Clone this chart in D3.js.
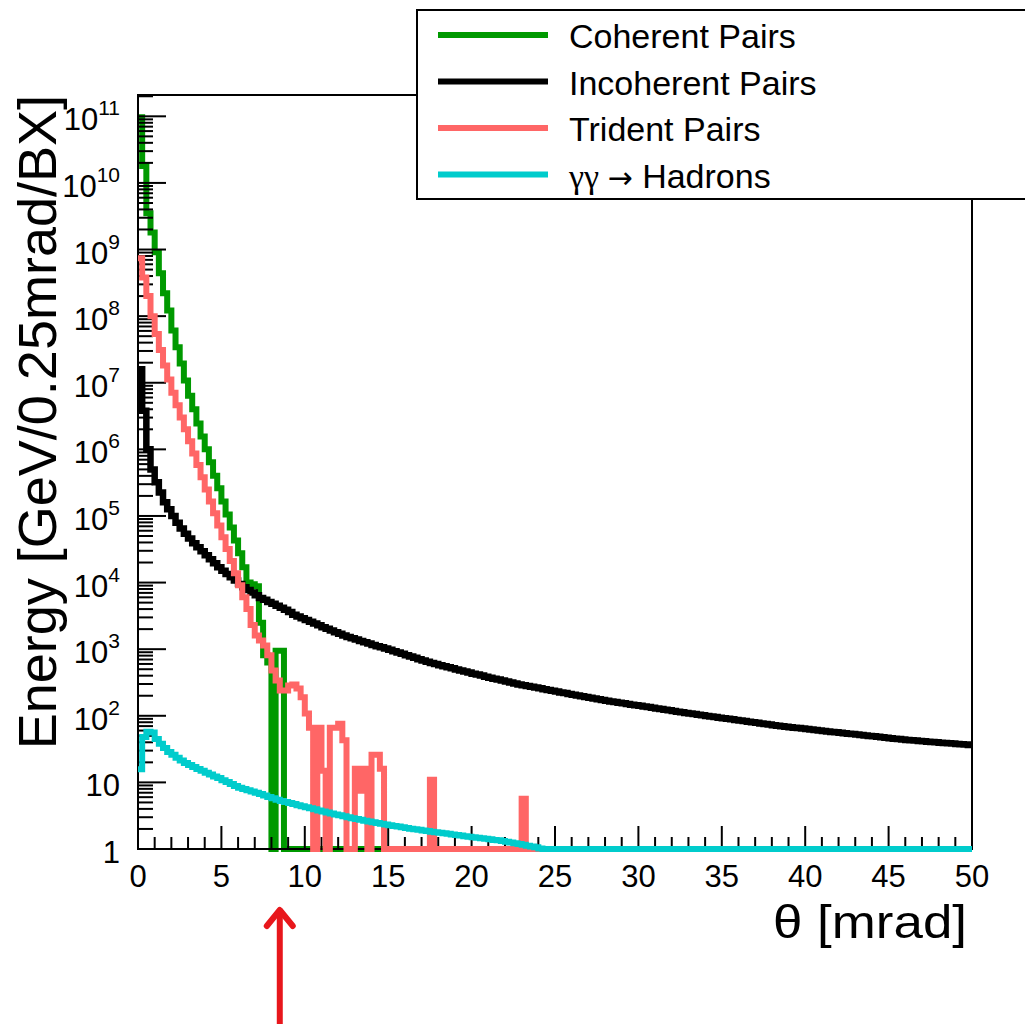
<!DOCTYPE html>
<html>
<head>
<meta charset="utf-8">
<script src="https://cdn.jsdelivr.net/npm/d3@7"></script>
<style>
  html, body { margin: 0; padding: 0; background: #fff; }
  svg { display: block; }
  text { font-family: "Liberation Sans", Arial, Helvetica, sans-serif; fill: #000; }
</style>
</head>
<body>
<svg id="chart" width="1025" height="1024"></svg>
<script>
// Energy per 0.25 mrad bin and bunch crossing, theta from 0 to 50 mrad
const binWidth = 0.25;            // mrad
const thetaRange = [0, 50];
const xTickValues = [0, 5, 10, 15, 20, 25, 30, 35, 40, 45, 50];
const yDecades = [0, 1, 2, 3, 4, 5, 6, 7, 8, 9, 10, 11];
const arrowTheta = 8.5;

const seriesNames = ["Coherent Pairs", "Incoherent Pairs", "Trident Pairs", "γγ → Hadrons"];
const seriesColors = ["#009900", "#000000", "#ff6666", "#00cccc"];

// Coherent pairs, bins 0..15 mrad
const coherent = [
  9.7e10, 1.8e10, 3.5e9, 1.8e9, 9.1e8, 4.4e8, 2.2e8, 1.22e8, 6.1e7, 3.4e7,
  1.95e7, 1.08e7, 6.4e6, 4.0e6, 2.45e6, 1.56e6, 1.0e6, 6.4e5, 4.0e5, 2.6e5,
  1.65e5, 1.05e5, 6.7e4, 4.3e4, 2.75e4, 1.7e4, 1.0e4, 9.4e3, 8.8e3, 2.5e3,
  810, 630, 0, 950, 950, 0, 0, 0, 0, 0,
  0, 0, 0, 0, 0, 0, 0, 0, 0, 0,
  0, 0, 0, 0, 0, 0, 0, 0, 0, 0
];

// Incoherent pairs, bins 0..50 mrad
const incoherent = [
  1.6e7, 3.8e6, 1.0e6, 5.0e5, 3.2e5, 2.25e5, 1.6e5, 1.26e5, 1.0e5, 7.9e4,
  6.5e4, 5.4e4, 4.6e4, 3.9e4, 3.4e4, 2.95e4, 2.57e4, 2.24e4, 1.95e4, 1.7e4,
  1.51e4, 1.35e4, 1.2e4, 1.07e4, 9550, 8500, 7760, 7080, 6460, 5890,
  5500, 5100, 4800, 4500, 4200, 3900, 3600, 3300, 3100, 2920,
  2750, 2570, 2430, 2290, 2140, 2020, 1910, 1800, 1700, 1600,
  1530, 1460, 1400, 1330, 1270, 1220, 1160, 1110, 1070, 1020,
  977, 933, 891, 851, 813, 776, 741, 708, 676, 646,
  619, 597, 575, 555, 535, 515, 497, 479, 461, 445,
  429, 415, 401, 387, 374, 361, 350, 338, 327, 316,
  305, 296, 288, 281, 273, 265, 258, 251, 244, 237,
  231, 224, 219, 213, 207, 202, 196, 191, 186, 181,
  177, 172, 168, 164, 161, 157, 154, 150, 147, 144,
  141, 138, 135, 132, 129, 126, 123, 121, 118, 115,
  113, 110, 108, 106, 104, 102, 99.5, 97.5, 95.7, 93.8,
  92.0, 90.2, 88.4, 86.5, 84.9, 83.2, 81.5, 80.0, 78.3, 76.9,
  75.3, 73.8, 72.4, 71.0, 69.8, 68.6, 67.5, 66.4, 65.3, 64.3,
  63.1, 62.1, 61.1, 60.1, 59.2, 58.2, 57.3, 56.4, 55.6, 54.7,
  53.8, 53.1, 52.2, 51.4, 50.6, 49.9, 49.1, 48.3, 47.5, 46.9,
  46.1, 45.4, 44.8, 44.1, 43.4, 42.9, 42.4, 41.9, 41.4, 40.9,
  40.5, 40.0, 39.5, 39.1, 38.6, 38.2, 37.8, 37.3, 36.9, 36.5
];

// Trident pairs, bins 0..24.5 mrad
const trident = [
  7.4e8, 3.8e8, 2.0e8, 1.0e8, 5.4e7, 3.1e7, 1.82e7, 1.12e7, 7.1e6, 4.6e6,
  3.0e6, 2.0e6, 1.32e6, 8.7e5, 5.8e5, 3.8e5, 2.5e5, 1.65e5, 1.1e5, 7.2e4,
  4.8e4, 3.2e4, 2.1e4, 1.38e4, 9.1e3, 6.0e3, 4.0e3, 2300, 1600, 1350,
  1140, 810, 480, 340, 240, 240, 285, 295, 257, 190,
  108, 66, 0, 66, 15, 0, 66, 66, 76, 43,
  0, 0, 16, 7.5, 16, 0, 26, 26, 16, 0,
  0, 0, 0, 0, 0, 0, 0, 0, 0, 0,
  11, 0, 0, 0, 0, 0, 0, 0, 0, 0,
  0, 0, 0, 0, 0, 0, 0, 0, 0, 0,
  0, 0, 5.7, 0, 0, 0, 0, 0
];

// gamma gamma -> hadrons, bins 0..50 mrad
const hadrons = [
  15.8, 47.9, 57.5, 56.2, 44.7, 38.0, 32.9, 28.6, 25.9, 23.5,
  21.3, 19.5, 18.2, 17.0, 15.9, 14.9, 14.0, 13.1, 12.3, 11.6,
  10.8, 10.1, 9.45, 8.83, 8.28, 7.93, 7.60, 7.28, 6.97, 6.67,
  6.35, 6.05, 5.77, 5.50, 5.27, 5.08, 4.90, 4.72, 4.55, 4.39,
  4.23, 4.08, 3.94, 3.80, 3.66, 3.53, 3.41, 3.30, 3.20, 3.10,
  3.00, 2.90, 2.81, 2.74, 2.66, 2.59, 2.52, 2.45, 2.39, 2.33,
  2.28, 2.22, 2.17, 2.12, 2.07, 2.02, 1.98, 1.94, 1.90, 1.86,
  1.82, 1.79, 1.75, 1.72, 1.69, 1.65, 1.62, 1.59, 1.56, 1.53,
  1.50, 1.48, 1.45, 1.42, 1.40, 1.37, 1.35, 1.32, 1.29, 1.25,
  1.22, 1.19, 1.16, 1.12, 1.09, 1.06, 1.02, 0, 0, 0,
  0, 0, 0, 0, 0, 0, 0, 0, 0, 0,
  0, 0, 0, 0, 0, 0, 0, 0, 0, 0,
  0, 0, 0, 0, 0, 0, 0, 0, 0, 0,
  0, 0, 0, 0, 0, 0, 0, 0, 0, 0,
  0, 0, 0, 0, 0, 0, 0, 0, 0, 0,
  0, 0, 0, 0, 0, 0, 0, 0, 0, 0,
  0, 0, 0, 0, 0, 0, 0, 0, 0, 0,
  0, 0, 0, 0, 0, 0, 0, 0, 0, 0,
  0, 0, 0, 0, 0, 0, 0, 0, 0, 0,
  0, 0, 0, 0, 0, 0, 0, 0, 0, 0
];

// ---- layout ----
const frame = { left: 138, right: 972, top: 95, bottom: 849 };
const yMin = 1, yMax = Math.pow(10, 11.32);
const lineWidth = 6;

const svg = d3.select("#chart");

const x = d3.scaleLinear().domain(thetaRange).range([frame.left, frame.right]);
const y = d3.scaleLog().domain([yMin, yMax]).range([frame.bottom, frame.top]).clamp(true);

// histogram outline: horizontal at each bin content, vertical at bin edges
function histPath(values) {
  const pts = values.map((v, i) => [i * binWidth, v]);
  pts.push([values.length * binWidth, values[values.length - 1]]);
  return d3.line()
    .x(d => x(d[0]))
    .y(d => y(Math.max(d[1], yMin)))
    .curve(d3.curveStepAfter)(pts);
}

const histLayer = svg.append("g");
function drawHist(values, color, width) {
  svg.append("path")
    .attr("d", histPath(values))
    .attr("fill", "none")
    .attr("stroke", color)
    .attr("stroke-width", width)
    .attr("stroke-linejoin", "miter")
    .attr("stroke-linecap", "butt");
}

// first histogram, then frame and axes, then the others on top
drawHist(coherent, seriesColors[0], lineWidth);

const axisLayer = svg.append("g");
// frame
axisLayer.append("rect")
  .attr("x", frame.left).attr("y", frame.top)
  .attr("width", frame.right - frame.left).attr("height", frame.bottom - frame.top)
  .attr("fill", "none").attr("stroke", "#000").attr("stroke-width", 2);

// x axis ticks (major every 5 mrad, minor every 1 mrad), drawn inward
const xMinor = d3.range(thetaRange[0], thetaRange[1] + 0.001, 1);
axisLayer.selectAll(".xtick").data(xMinor).enter().append("line")
  .attr("x1", d => x(d)).attr("x2", d => x(d))
  .attr("y1", frame.bottom)
  .attr("y2", d => frame.bottom - (xTickValues.includes(d) ? 23 : 12))
  .attr("stroke", "#000").attr("stroke-width", 2);

axisLayer.selectAll(".xlab").data(xTickValues).enter().append("text")
  .attr("x", d => x(d)).attr("y", 887)
  .attr("text-anchor", "middle")
  .attr("font-size", 31)
  .text(d => d);

// y axis ticks: decades and minor 2..9
const yTicks = [];
yDecades.forEach(e => {
  for (let m = 1; m <= 9; m++) {
    const v = m * Math.pow(10, e);
    if (v <= yMax) yTicks.push({ v, major: m === 1 });
  }
});
axisLayer.selectAll(".ytick").data(yTicks).enter().append("line")
  .attr("x1", frame.left)
  .attr("x2", d => frame.left + (d.major ? 28 : 15))
  .attr("y1", d => y(d.v)).attr("y2", d => y(d.v))
  .attr("stroke", "#000").attr("stroke-width", 2);

const ylab = axisLayer.selectAll(".ylab").data(yDecades).enter().append("text")
  .attr("x", 120)
  .attr("y", d => y(Math.pow(10, d)) + 14)
  .attr("text-anchor", "end")
  .attr("font-size", 31);
ylab.each(function(e) {
  const t = d3.select(this);
  if (e === 0) { t.text("1"); return; }
  if (e === 1) { t.text("10"); return; }
  t.append("tspan").text("10");
  t.append("tspan").attr("font-size", 21).attr("dy", -15).text(e);
});

// axis titles
svg.append("text")
  .attr("x", 967).attr("y", 938)
  .attr("text-anchor", "end")
  .attr("font-size", 47)
  .attr("textLength", 194)
  .attr("lengthAdjust", "spacingAndGlyphs")
  .text("θ [mrad]");

svg.append("text")
  .attr("transform", "translate(56," + frame.top + ") rotate(-90)")
  .attr("text-anchor", "end")
  .attr("font-size", 54)
  .text("Energy [GeV/0.25mrad/BX]");

drawHist(incoherent, seriesColors[1], lineWidth + 0.5);
drawHist(trident, seriesColors[2], lineWidth);
drawHist(hadrons, seriesColors[3], lineWidth);

// legend
const legend = svg.append("g");
legend.append("rect")
  .attr("x", 417).attr("y", 10).attr("width", 640).attr("height", 189)
  .attr("fill", "#fff").attr("stroke", "#000").attr("stroke-width", 2);
const rowY = [35, 81.5, 128, 174.5];
seriesNames.forEach((name, i) => {
  legend.append("line")
    .attr("x1", 438).attr("x2", 548)
    .attr("y1", rowY[i]).attr("y2", rowY[i])
    .attr("stroke", seriesColors[i]).attr("stroke-width", 6);
  const t = legend.append("text")
    .attr("x", 569).attr("y", rowY[i] + 13)
    .attr("font-size", 34);
  if (name.startsWith("γγ")) {
    t.append("tspan").attr("font-family", "'Liberation Serif', 'DejaVu Serif', serif").text("γγ ");
    t.append("tspan").attr("font-family", "'DejaVu Sans', sans-serif").attr("font-size", 30).text("→");
    t.append("tspan").text(" Hadrons");
  } else {
    t.text(name);
  }
});

// arrow marking the angle of interest
const ax = x(arrowTheta);
svg.append("line")
  .attr("x1", ax).attr("x2", ax).attr("y1", 1030).attr("y2", 911)
  .attr("stroke", "#e8171c").attr("stroke-width", 6);
svg.append("polyline")
  .attr("points", [[ax - 13, 926], [ax, 910], [ax + 13, 926]].map(p => p.join(",")).join(" "))
  .attr("fill", "none").attr("stroke", "#e8171c").attr("stroke-width", 6)
  .attr("stroke-linecap", "round").attr("stroke-linejoin", "round");
</script>
</body>
</html>
